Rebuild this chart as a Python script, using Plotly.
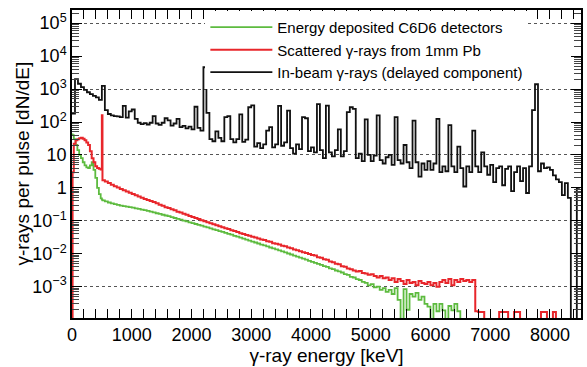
import numpy as np
import plotly.graph_objects as go

# ---------------- data ----------------
# In-beam gamma rays (delayed component): 50 keV bins starting at 0 keV
inbeam_bin_width = 50
inbeam_counts = [
    180, 2000, 1450, 1150, 950, 800, 700, 620, 560, 470,          # 0 - 450
    1250, 230, 175, 160, 150, 148, 140, 310, 135, 210,            # 500 - 950
    240, 125, 95, 86, 92, 84, 95, 150, 90, 82,                    # 1000 - 1450
    95, 130, 112, 78, 90, 125, 70, 76, 64, 72,                    # 1500 - 1950
    60, 290, 66, 55, 4600, 190, 30, 26, 52, 33,                   # 2000 - 2450
    26, 140, 150, 30, 24, 30, 170, 25, 29, 280,                   # 2500 - 2950
    320, 18, 23, 16, 21, 55, 70, 17, 21, 310,                     # 3000 - 3450
    19, 24, 220, 16, 11, 21, 15, 140, 130, 13,                    # 3500 - 3950
    17, 12, 350, 14, 8, 315, 12, 9, 14, 60,                       # 4000 - 4450
    9, 13, 200, 280, 250, 8, 11, 6.5, 120, 10,                    # 4500 - 4950
    6.5, 9.5, 160, 7, 5.5, 8.5, 10, 5, 140, 7,                    # 5000 - 5450
    5.5, 20, 6, 4, 110, 6, 2.2, 5.5, 3.5, 6.5,                    # 5500 - 5950
    3.5, 5.5, 125, 3, 4.5, 3.2, 80, 4.5, 3, 18,                   # 6000 - 6450
    4, 1.1, 4.5, 3, 55, 4.5, 3, 12, 4.5, 2.5,                     # 6500 - 6950
    5, 1.5, 4, 4.5, 1.2, 3.8, 4.5, 0.8, 3, 4.5,                   # 7000 - 7450
    1.6, 4, 0.7, 4.5, 230, 1400, 3.2, 5.5, 4, 4.2,                # 7500 - 7950
    3.5, 2.4, 1.8, 1.5, 0.6, 1.4, 0.5, 0, 0, 1.0,                 # 8000 - 8450
]

# Scattered gamma rays (1 mm Pb) and C6D6 deposited energy share the same bin edges
low_edges = [0, 10, 30, 60, 90, 120, 150, 180, 210, 240, 270, 300,
             330, 360, 390, 420, 450, 480, 500, 510]
scatter_counts = [
    0, 3, 22, 28, 30, 32, 33, 31, 28, 24, 20, 13,
    8, 6, 4.5, 4.0, 3.8, 3.6, 160, 1.7,                            # 0 - 510
    1.55, 1.4, 1.25, 1.12, 1.02, 0.93, 0.85, 0.78, 0.71,          # 550 - 950
    0.65, 0.6, 0.55, 0.5, 0.46, 0.43, 0.4, 0.37, 0.34, 0.31,      # 1000 - 1450
    0.285, 0.26, 0.245, 0.225, 0.21, 0.19, 0.178, 0.165, 0.152, 0.14,   # 1500 - 1950
    0.13, 0.122, 0.113, 0.105, 0.097, 0.09, 0.085, 0.079, 0.074, 0.069, # 2000 - 2450
    0.064, 0.06, 0.056, 0.052, 0.049, 0.046, 0.042, 0.04, 0.037, 0.035, # 2500 - 2950
    0.033, 0.031, 0.029, 0.027, 0.026, 0.024, 0.023, 0.021, 0.02, 0.019,  # 3000 - 3450
    0.0175, 0.0168, 0.0155, 0.0148, 0.0135, 0.0128, 0.012, 0.0112, 0.0105, 0.0098,  # 3500 - 3950
    0.0092, 0.0088, 0.0079, 0.0076, 0.0068, 0.0066, 0.0058, 0.0055, 0.0050, 0.0048,  # 4000 - 4450
    0.0042, 0.0040, 0.0036, 0.0034, 0.0031, 0.0029, 0.0030, 0.0026, 0.0025, 0.0023,  # 4500 - 4950
    0.0024, 0.0021, 0.0019, 0.0021, 0.0018, 0.0019, 0.0016, 0.0018, 0.0014, 0.0017,  # 5000 - 5450
    0.0015, 0.0012, 0.0016, 0.0013, 0.0014, 0.0011, 0.0015, 0.0013, 0.0012, 0.0014,  # 5500 - 5950
    0.0011, 0.0013, 0.0010, 0.0014, 0.0016, 0.0013, 0.0017, 0.0011, 0.0016, 0.0014,  # 6000 - 6450
    0.0017, 0.0015, 0.0016, 0.0014, 0.0016, 0.00018, 0.00017, 0.00017, 0, 0,         # 6500 - 6950
    0, 0, 0, 0.00017, 0.00017, 0.00017, 0, 0, 0.00017, 0.00017,                       # 7000 - 7450
    0, 0, 0, 0, 0, 0, 0, 0.00017, 0.00017, 0,                                          # 7500 - 7950
    0, 0.00017, 0, 0, 0, 0, 0, 0, 0, 0,                                                # 8000 - 8450
]
c6d6_counts = [
    42, 40, 30, 20, 14, 10, 8, 6, 4.8, 4.2, 4.0, 4.8,
    6, 3.5, 2.0, 1.0, 0.65, 0.48, 0.44, 0.42,                      # 0 - 510
    0.39, 0.36, 0.34, 0.32, 0.305, 0.29, 0.28, 0.27, 0.26,        # 550 - 950
    0.25, 0.24, 0.23, 0.22, 0.21, 0.2, 0.19, 0.18, 0.17, 0.162,   # 1000 - 1450
    0.153, 0.145, 0.138, 0.13, 0.122, 0.115, 0.108, 0.102, 0.096, 0.09,  # 1500 - 1950
    0.085, 0.08, 0.075, 0.071, 0.067, 0.063, 0.059, 0.055, 0.052, 0.049, # 2000 - 2450
    0.046, 0.043, 0.04, 0.038, 0.035, 0.033, 0.031, 0.029, 0.027, 0.025, # 2500 - 2950
    0.0235, 0.022, 0.0205, 0.019, 0.018, 0.0168, 0.0155, 0.0145, 0.0135, 0.0127,  # 3000 - 3450
    0.0118, 0.011, 0.0102, 0.0095, 0.0088, 0.0082, 0.0076, 0.0071, 0.0066, 0.0061,  # 3500 - 3950
    0.0057, 0.0053, 0.0049, 0.0046, 0.0042, 0.0040, 0.0036, 0.0034, 0.0031, 0.0029,  # 4000 - 4450
    0.0027, 0.0024, 0.0023, 0.0020, 0.0019, 0.0017, 0.0016, 0.0014, 0.0013, 0.0011,  # 4500 - 4950
    0.0012, 0.00095, 0.0010, 0.0008, 0.0009, 0.0007, 0.0008, 0.0006, 0.0009, 0.0004, # 5000 - 5450
    0, 0.00085, 0.0002, 0.0006, 0.0005, 0.00065, 0.0004, 0.0005, 0.0003, 0.00025,    # 5500 - 5950
    0, 0.0003, 0.00018, 0.0003, 0.00019, 0, 0.00026, 0.00019, 0.0003, 0.00018,       # 6000 - 6450
    0, 0,                                                                              # 6500 - 6550
]

energy_max = 8520
y_tick_vals = [1e-3, 1e-2, 1e-1, 1, 10, 1e2, 1e3, 1e4, 1e5]
y_tick_text = ["10<sup>−3</sup>", "10<sup>−2</sup>", "10<sup>−1</sup>", "1", "10",
               "10<sup>2</sup>", "10<sup>3</sup>", "10<sup>4</sup>", "10<sup>5</sup>"]
grid_vals = [1e-3, 1e-1, 10, 1e3, 1e5]

# ---------------- helpers ----------------
FLOOR = 1e-9  # empty bins are sent below the visible range


def step_xy(edges, counts, last_edge):
    """Return x/y arrays for a histogram drawn as steps (hv)."""
    c = np.asarray(counts, dtype=float)
    c = np.where(c > 0, c, FLOOR)
    x = list(edges) + [last_edge]
    y = list(c) + [c[-1]]
    return x, y


inbeam_edges = np.arange(len(inbeam_counts)) * inbeam_bin_width
n_hi_sc = len(scatter_counts) - len(low_edges)
scatter_edges = low_edges + list(550 + inbeam_bin_width * np.arange(n_hi_sc))
n_hi_c6 = len(c6d6_counts) - len(low_edges)
c6d6_edges = low_edges + list(550 + inbeam_bin_width * np.arange(n_hi_c6))

xg, yg = step_xy(c6d6_edges, c6d6_counts, c6d6_edges[-1] + inbeam_bin_width)
xr, yr = step_xy(scatter_edges, scatter_counts, scatter_edges[-1] + inbeam_bin_width)
xb, yb = step_xy(inbeam_edges, inbeam_counts, inbeam_edges[-1] + inbeam_bin_width)

fig = go.Figure()
# empty trace that carries the overlaid axis used for the dotted decade lines
fig.add_trace(go.Scatter(x=[], y=[], yaxis="y2", showlegend=False, hoverinfo="skip"))
fig.add_trace(go.Scatter(x=xg, y=yg, mode="lines", line_shape="hv",
                         line=dict(color="#5dbb3f", width=1.8),
                         name="Energy deposited C6D6 detectors"))
fig.add_trace(go.Scatter(x=xr, y=yr, mode="lines", line_shape="hv",
                         line=dict(color="#e8262b", width=2.0),
                         name="Scattered γ-rays from 1mm Pb"))
fig.add_trace(go.Scatter(x=xb, y=yb, mode="lines", line_shape="hv",
                         line=dict(color="#111111", width=1.8),
                         name="In-beam γ-rays (delayed component)"))

yr_log = [-3.95, 5.40]
minor_y = [m * 10.0 ** k for k in range(-4, 6) for m in range(2, 10)]

fig.update_layout(
    width=587, height=367,
    margin=dict(l=72, r=4, t=10, b=45),
    paper_bgcolor="white", plot_bgcolor="white",
    font=dict(family="Liberation Sans, Arial, Helvetica, sans-serif", color="black", size=18),
    showlegend=True,
    legend=dict(x=0.262, y=0.997, xanchor="left", yanchor="top",
                bgcolor="white", borderwidth=0, font=dict(size=15),
                itemwidth=62, tracegroupgap=0),
    xaxis=dict(
        range=[0, energy_max], showline=True, linecolor="black", linewidth=1.5,
        mirror="allticks", ticks="inside", ticklen=9, tickwidth=1.2, tickcolor="black",
        dtick=1000, tick0=0, showgrid=False, zeroline=False,
        minor=dict(dtick=200, ticks="inside", ticklen=5, tickwidth=1, tickcolor="black",
                   showgrid=False),
        tickfont=dict(size=18),
        title=dict(text="γ-ray energy [keV]", font=dict(size=19), standoff=4),
    ),
    yaxis=dict(
        type="log", range=yr_log, showline=True, linecolor="black", linewidth=1.5,
        mirror="allticks", ticks="inside", ticklen=10, tickwidth=1.2, tickcolor="black",
        tickmode="array", tickvals=y_tick_vals, ticktext=y_tick_text,
        showgrid=False, zeroline=False,
        minor=dict(tickmode="array", tickvals=minor_y, ticks="inside", ticklen=7,
                   tickwidth=1, tickcolor="#444444", showgrid=False),
        tickfont=dict(size=18),
    ),
    yaxis2=dict(
        type="log", range=yr_log, overlaying="y", side="right",
        tickmode="array", tickvals=grid_vals, showticklabels=False, ticks="",
        showgrid=True, gridcolor="#555555", griddash="dot", gridwidth=1,
        showline=False, zeroline=False,
    ),
    annotations=[dict(
        text="γ-rays per pulse [dN/dE]", textangle=-90, font=dict(size=19),
        xref="paper", yref="paper", x=-0.099, y=0.5,
        xanchor="center", yanchor="middle", showarrow=False,
    )],
)

fig.write_html("out.html")
